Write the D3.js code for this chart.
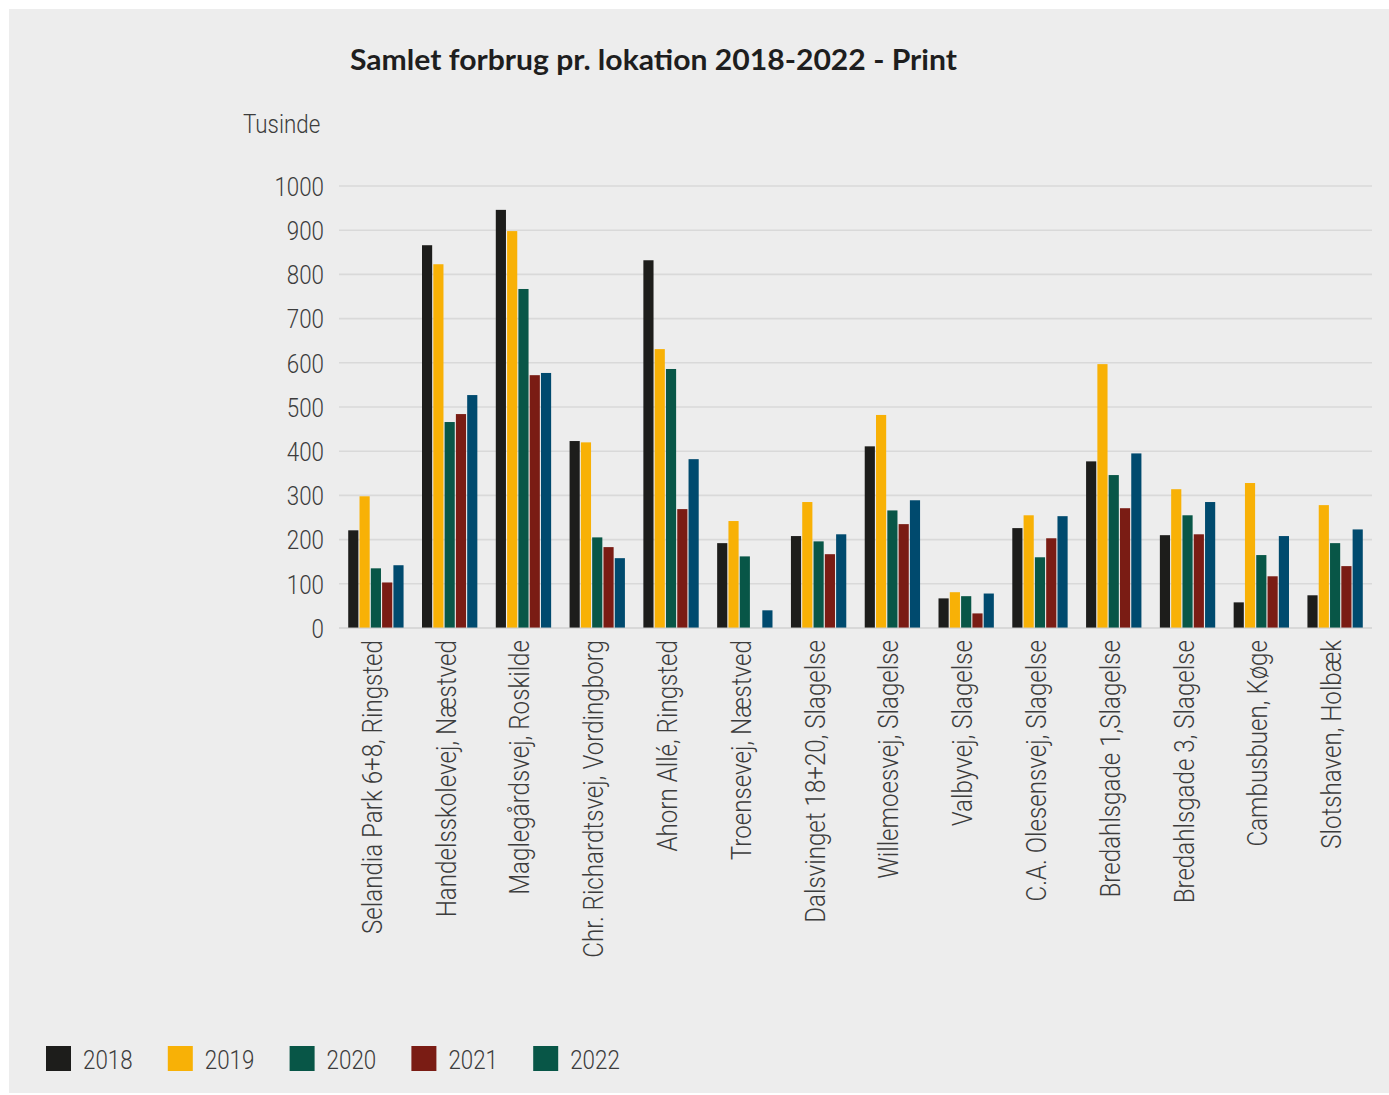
<!DOCTYPE html>
<html lang="da">
<head>
<meta charset="utf-8">
<title>Samlet forbrug pr. lokation 2018-2022 - Print</title>
<script src="https://cdn.jsdelivr.net/npm/d3@7"></script>
<style>
  html, body { margin: 0; padding: 0; background: #ffffff; }
  svg { display: block; }
</style>
</head>
<body>
<svg id="chart" width="1389" height="1095"></svg>
<script>
// Locations along the x axis
const categories = [
  "Selandia Park 6+8, Ringsted",
  "Handelsskolevej, Næstved",
  "Maglegårdsvej, Roskilde",
  "Chr. Richardtsvej, Vordingborg",
  "Ahorn Allé, Ringsted",
  "Troensevej, Næstved",
  "Dalsvinget 18+20, Slagelse",
  "Willemoesvej, Slagelse",
  "Valbyvej, Slagelse",
  "C.A. Olesensvej, Slagelse",
  "Bredahlsgade 1,Slagelse",
  "Bredahlsgade 3, Slagelse",
  "Cambusbuen, Køge",
  "Slotshaven, Holbæk"
];

// Years (series)
const years = ["2018", "2019", "2020", "2021", "2022"];

// Consumption per location, in thousands
const values2018 = [221, 866, 946, 423, 832, 192, 208, 411, 67, 226, 377, 210, 58, 74];
const values2019 = [298, 823, 898, 420, 631, 242, 285, 482, 81, 255, 597, 314, 328, 278];
const values2020 = [135, 466, 767, 205, 586, 162, 196, 266, 72, 160, 346, 255, 165, 192];
const values2021 = [103, 484, 572, 183, 269, 0, 167, 235, 33, 203, 271, 212, 117, 140];
const values2022 = [142, 527, 577, 158, 382, 40, 212, 289, 78, 253, 395, 285, 208, 223];

// Y axis ticks
const yTicks = [0, 100, 200, 300, 400, 500, 600, 700, 800, 900, 1000];

const seriesValues = [values2018, values2019, values2020, values2021, values2022];
const barColors = ["#1d1d1b", "#f8b106", "#085647", "#7a1c14", "#004a6e"];
const legendColors = ["#1d1d1b", "#f8b106", "#085647", "#7a1c14", "#085647"];

const svg = d3.select("#chart");
const W = 1389, H = 1095;

// Panel background
svg.append("rect")
  .attr("x", 9).attr("y", 9)
  .attr("width", W - 9).attr("height", H - 11)
  .attr("fill", "#ededed");

const lightFont = "Roboto, 'Open Sans', sans-serif";
const textColor = "#3c3c3c";
const sx = 0.86;      // narrow the light face
const sxLabel = 0.895; // category labels run a little longer

const plot = { left: 339, right: 1372, top: 186, bottom: 628 };

const x0 = d3.scaleBand()
  .domain(categories)
  .range([plot.left, plot.right])
  .paddingInner(0.25)
  .paddingOuter(0.125);

const x1 = d3.scaleBand()
  .domain(years)
  .range([0, x0.bandwidth()])
  .paddingInner(0.1);

const y = d3.scaleLinear()
  .domain([0, 1000])
  .range([plot.bottom, plot.top]);

// Gridlines
const grid = svg.append("g").attr("class", "grid");
grid.selectAll("line")
  .data(yTicks)
  .join("line")
  .attr("x1", plot.left).attr("x2", plot.right)
  .attr("y1", d => y(d)).attr("y2", d => y(d))
  .attr("stroke", "#d9d9d9")
  .attr("stroke-width", 1.6);

// Y tick labels
const yAxis = svg.append("g")
  .attr("transform", `translate(${plot.left - 15},0)`)
  .call(d3.axisLeft(y).tickValues(yTicks).tickSize(0).tickPadding(0).tickFormat(d3.format("d")));
yAxis.select(".domain").remove();
yAxis.selectAll(".tick text")
  .attr("x", 0).attr("dy", "0.36em")
  .attr("text-anchor", "end")
  .attr("fill", textColor)
  .style("font-family", lightFont)
  .style("font-weight", 300)
  .style("font-size", "26px")
  .attr("transform", `scale(${sx},1)`);

// Bars
const rows = categories.map((c, i) => ({
  category: c,
  bars: years.map((yr, j) => ({ year: yr, value: seriesValues[j][i], color: barColors[j] }))
}));

const groups = svg.append("g").attr("class", "bars")
  .selectAll("g")
  .data(rows)
  .join("g")
  .attr("transform", d => `translate(${x0(d.category)},0)`);

groups.selectAll("rect")
  .data(d => d.bars)
  .join("rect")
  .attr("x", d => x1(d.year))
  .attr("width", x1.bandwidth())
  .attr("y", d => y(d.value))
  .attr("height", d => plot.bottom - y(d.value))
  .attr("fill", d => d.color);

// Zero line over the bar bases
svg.append("line")
  .attr("x1", plot.left).attr("x2", plot.right)
  .attr("y1", y(0)).attr("y2", y(0))
  .attr("stroke", "#cfcfcf")
  .attr("stroke-opacity", 0.6)
  .attr("stroke-width", 1.6);

// Category labels, rotated
svg.append("g").attr("class", "xlabels")
  .selectAll("text")
  .data(categories)
  .join("text")
  .attr("transform", d => `translate(${x0(d) + x0.bandwidth() / 2 + 6},640) rotate(-90) scale(${sxLabel},1)`)
  .attr("text-anchor", "end")
  .attr("fill", textColor)
  .style("font-family", lightFont)
  .style("font-weight", 300)
  .style("font-size", "27px")
  .text(d => d);

// Unit label
svg.append("text")
  .attr("transform", `translate(243,133) scale(${sx},1)`)
  .attr("fill", textColor)
  .style("font-family", lightFont)
  .style("font-weight", 300)
  .style("font-size", "26px")
  .text("Tusinde");

// Title
const title = svg.append("text")
  .attr("x", 0).attr("y", 0)
  .attr("fill", "#1e1e1e")
  .style("font-family", "Lato, 'Open Sans', sans-serif")
  .style("font-weight", 700)
  .style("font-size", "28px")
  .text("Samlet forbrug pr. lokation 2018-2022 - Print");
const titleLen = title.node().getComputedTextLength();
title.attr("transform", `translate(350,70) scale(${607 / titleLen},1)`);

// Legend
const legend = svg.append("g").attr("class", "legend")
  .selectAll("g")
  .data(years)
  .join("g")
  .attr("transform", (d, i) => `translate(${46 + i * 121.8},1046)`);

legend.append("rect")
  .attr("width", 25).attr("height", 25)
  .attr("fill", (d, i) => legendColors[i]);

legend.append("text")
  .attr("transform", `translate(37,23) scale(${sx},1)`)
  .attr("fill", textColor)
  .style("font-family", lightFont)
  .style("font-weight", 300)
  .style("font-size", "26px")
  .text(d => d);
</script>
</body>
</html>
